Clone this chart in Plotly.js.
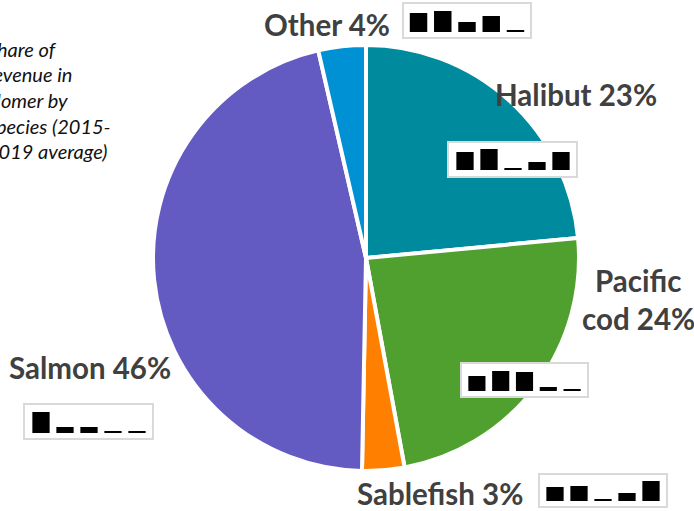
<!DOCTYPE html>
<html><head><meta charset="utf-8">
<script src="https://cdn.plot.ly/plotly-3.0.1.min.js"></script>
<style>
html,body{margin:0;padding:0;background:#fff;overflow:hidden}
#pie,#bars{position:absolute;left:0;top:0;width:694px;height:511px}
#bars{pointer-events:none}
</style></head><body>
<div id="pie"></div><div id="bars"></div>
<script>
const W = 694, H = 511;
const species = ['Halibut', 'Pacific cod', 'Sablefish', 'Salmon', 'Other'];
const shares = [23.5, 23.6, 3.2, 46.1, 3.6];
const colors = ['#008a9e', '#4fa02f', '#ff8000', '#635ac2', '#0091d4'];
const years = ['2015', '2016', '2017', '2018', '2019'];
const halibutBars = [18, 21, 2, 8, 18];
const codBars = [15, 20, 19, 4, 2];
const sablefishBars = [14, 15, 2, 8, 20];
const salmonBars = [21, 6, 6, 2, 2];
const otherBars = [19, 21, 10, 16, 2];
const captionLines = ['Share of', 'revenue in', 'Homer by', 'species (2015-', '2019 average)'];

const px = x => x / W, py = y => 1 - y / H;
const labelFont = {family: 'Lato, sans-serif', size: 29.5, color: '#404040', weight: 700};
function label(text, x, y, anchor) {
  return {text: '<b>' + text + '</b>', xref: 'paper', yref: 'paper', x: px(x), y: py(y),
    xanchor: anchor || 'center', yanchor: 'middle', showarrow: false, font: labelFont, borderpad: 0};
}
const cx = 366, cy = 258, r = 213;
Plotly.newPlot('pie', [{
  type: 'pie', labels: species, values: shares, sort: false, direction: 'clockwise', rotation: 0,
  marker: {colors: colors, line: {color: '#ffffff', width: 4}},
  textinfo: 'none', hoverinfo: 'none', showlegend: false,
  domain: {x: [px(cx - r), px(cx + r)], y: [py(cy + r), py(cy - r)]}
}], {
  width: W, height: H, margin: {l: 0, r: 0, t: 0, b: 0}, paper_bgcolor: '#fff', showlegend: false
}, {staticPlot: true});

// Inset placement: category-band left/right, baseline, box edges (pixels)
const insets = [
  {v: otherBars,     l: 406.4, rr: 527.6, base: 32,  box: [403, 531, 3, 38]},
  {v: halibutBars,   l: 453,   rr: 573,   base: 170, box: [448, 577, 142, 177]},
  {v: codBars,       l: 465,   rr: 584,   base: 391, box: [461, 588, 363, 397]},
  {v: sablefishBars, l: 543,   rr: 663,   base: 501, box: [539, 667, 474, 507]},
  {v: salmonBars,    l: 29,    rr: 149,   base: 433, box: [24, 153, 404, 439]}
];
const unitsTall = 24;
const traces = [], shapes = [];
const layout = {
  width: W, height: H, margin: {l: 0, r: 0, t: 0, b: 0},
  paper_bgcolor: 'rgba(0,0,0,0)', plot_bgcolor: 'rgba(0,0,0,0)',
  showlegend: false, bargap: 0.28
};
insets.forEach((s, i) => {
  const n = i === 0 ? '' : String(i + 1);
  traces.push({type: 'bar', x: years, y: s.v, xaxis: 'x' + n, yaxis: 'y' + n,
    marker: {color: '#000000'}, hoverinfo: 'none'});
  const hidden = {visible: false, fixedrange: true};
  layout['xaxis' + n] = Object.assign({domain: [px(s.l), px(s.rr)], type: 'category', anchor: 'y' + n}, hidden);
  layout['yaxis' + n] = Object.assign({domain: [py(s.base), py(s.base - unitsTall)], range: [0, unitsTall], anchor: 'x' + n}, hidden);
  shapes.push({type: 'rect', layer: 'below', xref: 'paper', yref: 'paper',
    x0: px(s.box[0]), x1: px(s.box[1]), y0: py(s.box[3]), y1: py(s.box[2]),
    fillcolor: '#ffffff', line: {color: '#d9d9d9', width: 2}});
});
layout.shapes = shapes;
layout.annotations = [
  label('Other 4%', 326.5, 25),
  label('Halibut 23%', 576, 94),
  label('Pacific', 638, 280),
  label('cod 24%', 638, 318),
  label('Salmon 46%', 90, 367),
  label('Sablefish 3%', 440, 493)
].concat(captionLines.map((t, i) => ({
  text: '<i>' + t + '</i>', xref: 'paper', yref: 'paper', x: px(-15.5), y: py(49 + i * 25.5),
  xanchor: 'left', yanchor: 'middle', showarrow: false,
  font: {family: 'Lato, sans-serif', size: 20, color: '#111111', style: 'italic'}
})));
Plotly.newPlot('bars', traces, layout, {staticPlot: true});
</script>
</body></html>
